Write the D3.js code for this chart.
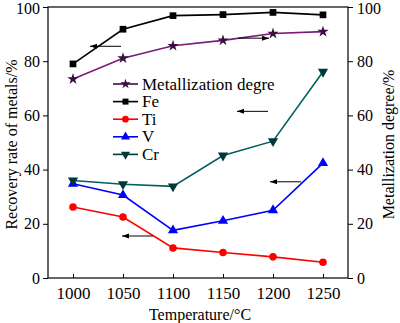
<!DOCTYPE html>
<html>
<head>
<meta charset="utf-8">
<script src="https://cdn.jsdelivr.net/npm/d3@7"></script>
<style>
  body { margin: 0; background: #fff; }
  svg text { font-family: "Liberation Serif", "Times New Roman", Times, "DejaVu Serif", serif; fill: #000; }
</style>
</head>
<body>
<svg id="chart" width="400" height="323"></svg>
<script>
// temperatures and recovery / metallization values
const temps = [1000, 1050, 1100, 1150, 1200, 1250];
const metallization = [73.4, 81.1, 85.7, 87.7, 90.2, 90.9];
const fe = [79.0, 91.8, 96.8, 97.2, 98.0, 97.1];
const ti = [26.2, 22.5, 11.1, 9.4, 7.8, 5.8];
const v = [34.8, 30.6, 17.6, 21.1, 25.0, 42.4];
const cr = [36.0, 34.6, 33.8, 45.2, 50.5, 76.1];
const yTicks = [0, 20, 40, 60, 80, 100];

const serif = '"Liberation Serif", "Times New Roman", Times, "DejaVu Serif", serif';

const series = [
    { name: 'Metallization degre', values: metallization, color: '#7a1a7a', marker: '#3a1040', shape: 'star' },
    { name: 'Fe', values: fe, color: '#000000', marker: '#000000', shape: 'square' },
    { name: 'Ti', values: ti, color: '#ff0000', marker: '#ff0000', shape: 'circle' },
    { name: 'V', values: v, color: '#0000ff', marker: '#0000ff', shape: 'triangle' },
    { name: 'Cr', values: cr, color: '#006060', marker: '#003838', shape: 'down' },
];

// arrows telling which axis each curve belongs to: [temp, value, direction]
const arrows = [
    { t: 1048, y: 85.5, dir: -1 },
    { t: 1165, y: 88.5, dir: 1 },
    { t: 1195, y: 61.5, dir: -1 },
    { t: 1228, y: 35.5, dir: -1 },
    { t: 1080, y: 15.5, dir: -1 },
];

const margin = { left: 48, right: 52, top: 7, bottom: 45 };
const width = 400, height = 323;

const svg = d3.select('#chart');

const x = d3.scaleLinear()
    .domain([975, 1275])
    .range([margin.left, width - margin.right]);

const y = d3.scaleLinear()
    .domain([0, 100])
    .range([height - margin.bottom, margin.top]);

const symbols = {
    star: d3.symbolStar,
    square: d3.symbolSquare,
    circle: d3.symbolCircle,
    triangle: d3.symbolTriangle,
};

function drawMarker(g, shape, color, size) {
    let s = shape === 'down' ? d3.symbolTriangle : symbols[shape];
    let p = g.append('path')
        .attr('d', d3.symbol().type(s).size(size)())
        .attr('fill', color);
    if (shape === 'down') p.attr('transform', 'rotate(180)');
    return p;
}

// frame
svg.append('rect')
    .attr('x', margin.left)
    .attr('y', margin.top)
    .attr('width', width - margin.left - margin.right)
    .attr('height', height - margin.top - margin.bottom)
    .attr('fill', 'none')
    .attr('stroke', '#000')
    .attr('stroke-width', 1.2);

// axes
const leftAxis = svg.append('g')
    .attr('transform', `translate(${margin.left},0)`)
    .call(d3.axisLeft(y).tickValues(yTicks).tickSize(5).tickPadding(3));

const rightAxis = svg.append('g')
    .attr('transform', `translate(${width - margin.right},0)`)
    .call(d3.axisRight(y).tickValues(yTicks).tickSize(5).tickPadding(4));

const bottomAxis = svg.append('g')
    .attr('transform', `translate(0,${height - margin.bottom})`)
    .call(d3.axisBottom(x).tickValues(temps).tickSize(-4).tickPadding(9).tickFormat(d3.format('d')));

[leftAxis, rightAxis, bottomAxis].forEach(a => {
    a.attr('font-family', serif);
    a.select('.domain').remove();
    a.selectAll('line').attr('stroke', '#000');
    a.selectAll('text').style('font-size', a === bottomAxis ? '17px' : '16px')
        .style('font-family', serif);
});

// keep the top labels inside the page
[leftAxis, rightAxis].forEach(a => {
    a.selectAll('.tick text').filter(d => d === 100).attr('dy', '0.42em');
});

// axis titles
svg.append('text')
    .attr('transform', `translate(17,${(margin.top + height - margin.bottom) / 2 + 2}) rotate(-90)`)
    .attr('text-anchor', 'middle')
    .style('font-size', '16px')
    .style('font-family', serif)
    .text('Recovery rate of metals/%');

svg.append('text')
    .attr('transform', `translate(394,${(margin.top + height - margin.bottom) / 2 + 2}) rotate(-90)`)
    .attr('text-anchor', 'middle')
    .style('font-size', '16px')
    .style('font-family', serif)
    .text('Metallization degree/%');

svg.append('text')
    .attr('x', (margin.left + width - margin.right) / 2 + 2)
    .attr('y', 320)
    .attr('text-anchor', 'middle')
    .style('font-size', '16px')
    .style('font-family', serif)
    .text('Temperature/°C');

// lines and markers
const line = d3.line()
    .x((d, i) => x(temps[i]))
    .y(d => y(d));

series.forEach(s => {
    svg.append('path')
        .datum(s.values)
        .attr('d', line)
        .attr('fill', 'none')
        .attr('stroke', s.color)
        .attr('stroke-width', 1.6);

    s.values.forEach((val, i) => {
        let g = svg.append('g')
            .attr('transform', `translate(${x(temps[i])},${y(val)})`);
        drawMarker(g, s.shape, s.marker, s.shape === 'star' ? 40 : 45);
    });
});

// arrows
const arrowLen = 31;
arrows.forEach(a => {
    let x0 = x(a.t), yy = y(a.y);
    let x1 = x0 + a.dir * arrowLen;
    svg.append('line')
        .attr('x1', x0).attr('y1', yy)
        .attr('x2', x1).attr('y2', yy)
        .attr('stroke', '#000')
        .attr('stroke-width', 1);
    svg.append('path')
        .attr('d', `M${x1},${yy} L${x1 - a.dir * 7},${yy - 2.5} L${x1 - a.dir * 7},${yy + 2.5} Z`)
        .attr('fill', '#000');
});

// legend
const legend = svg.append('g');
series.forEach((s, i) => {
    let ly = 84 + i * 17.6;
    legend.append('line')
        .attr('x1', 113).attr('x2', 138)
        .attr('y1', ly).attr('y2', ly)
        .attr('stroke', s.marker)
        .attr('stroke-width', 1.6);
    let g = legend.append('g').attr('transform', `translate(125.5,${ly})`);
    drawMarker(g, s.shape, s.marker, s.shape === 'star' ? 32 : 36);
    legend.append('text')
        .attr('x', 142)
        .attr('y', ly + 5.5)
        .style('font-size', '17px')
        .style('font-family', serif)
        .text(s.name);
});
</script>
</body>
</html>
